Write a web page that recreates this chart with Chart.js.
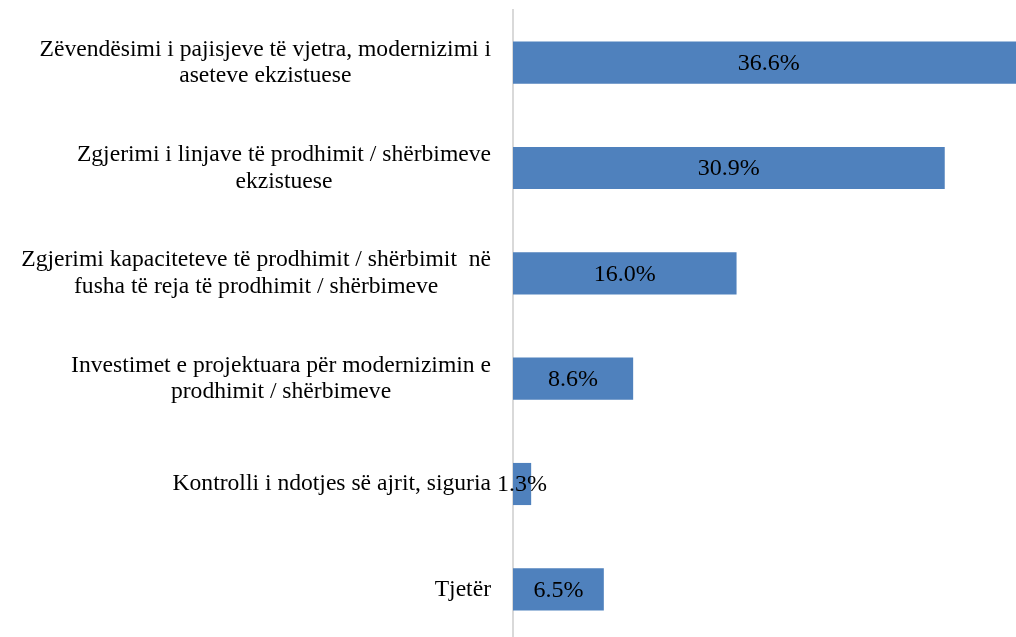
<!DOCTYPE html>
<html>
<head>
<meta charset="utf-8">
<script src="https://cdn.jsdelivr.net/npm/chart.js@4"></script>
<style>
  html, body { margin: 0; padding: 0; background: #fff; overflow: hidden; }
  #wrap { width: 1016px; height: 642px; }
</style>
</head>
<body>
<div id="wrap"><canvas id="barChart" width="1016" height="642"></canvas></div>
<script>
// categories (each one split in lines like the original)
const categories = [
    ['Zëvendësimi i pajisjeve të vjetra, modernizimi i', 'aseteve ekzistuese'],
    ['Zgjerimi i linjave të prodhimit / shërbimeve', 'ekzistuese'],
    ['Zgjerimi kapaciteteve të prodhimit / shërbimit  në', 'fusha të reja të prodhimit / shërbimeve'],
    ['Investimet e projektuara për modernizimin e', 'prodhimit / shërbimeve'],
    ['Kontrolli i ndotjes së ajrit, siguria'],
    ['Tjetër']
];
const shares = [36.6, 30.9, 16.0, 8.6, 1.3, 6.5];

const labelFont = '23.6px "Liberation Serif", serif';
const valueFont = '24px "Liberation Serif", serif';

// category labels: block right aligned to the axis, lines centered inside
const catLabels = {
    id: 'catLabels',
    afterDraw(chart) {
        const ctx = chart.ctx;
        const yScale = chart.scales.y;
        const right = chart.chartArea.left - 22;
        const lh = 26.7;
        ctx.save();
        ctx.font = labelFont;
        ctx.fillStyle = '#000';
        ctx.textAlign = 'center';
        ctx.textBaseline = 'middle';
        categories.forEach((lines, i) => {
            const y = yScale.getPixelForTick(i);
            const widest = Math.max(...lines.map(l => ctx.measureText(l).width));
            const cx = right - widest / 2;
            lines.forEach((line, j) => {
                ctx.fillText(line, cx, y + (j - (lines.length - 1) / 2) * lh);
            });
        });
        ctx.restore();
    }
};

// value labels in the middle of each bar
const valueLabels = {
    id: 'valueLabels',
    afterDatasetsDraw(chart) {
        const ctx = chart.ctx;
        const meta = chart.getDatasetMeta(0);
        ctx.save();
        ctx.font = valueFont;
        ctx.fillStyle = '#000';
        ctx.textAlign = 'center';
        ctx.textBaseline = 'middle';
        meta.data.forEach((bar, i) => {
            ctx.fillText(shares[i].toFixed(1) + '%', (bar.x + bar.base) / 2, bar.y + 1);
        });
        ctx.restore();
    }
};

const ctxBar = document.getElementById('barChart').getContext('2d');
const barChart = new Chart(ctxBar, {
    type: 'bar',
    data: {
        labels: categories,
        datasets: [{
            data: shares,
            backgroundColor: '#4F81BD',
            borderWidth: 0,
            barPercentage: 0.4,
            categoryPercentage: 1
        }]
    },
    options: {
        indexAxis: 'y',
        responsive: false,
        animation: false,
        layout: { padding: { top: 10, right: 0, bottom: 0, left: 0 } },
        plugins: {
            legend: { display: false },
            tooltip: { enabled: false }
        },
        scales: {
            x: {
                display: false,
                min: 0,
                max: 36
            },
            y: {
                grid: { display: false },
                border: { display: true, color: '#D9D9D9', width: 2 },
                ticks: { display: false },
                afterFit(scale) { scale.width = 513; }
            }
        }
    },
    plugins: [catLabels, valueLabels]
});
</script>
</body>
</html>
